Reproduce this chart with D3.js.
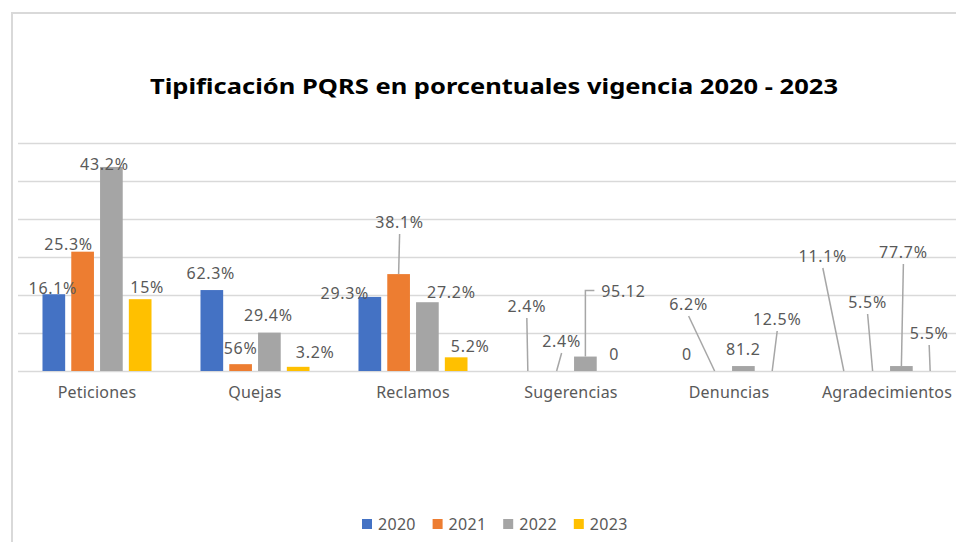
<!DOCTYPE html>
<html>
<head>
<meta charset="utf-8">
<script src="https://cdn.jsdelivr.net/npm/d3@7"></script>
<style>
  body { margin: 0; background: #fff; }
  svg { display: block; }
  text { font-family: "Noto Sans", "Open Sans", sans-serif; }
</style>
</head>
<body>
<div id="chart"></div>
<script>
// Chart data
let categories = ["Peticiones", "Quejas", "Reclamos", "Sugerencias", "Denuncias", "Agradecimientos"];
let series = ["2020", "2021", "2022", "2023"];

// bar heights (gridline step = 10)
let values2020 = [20.2, 21.3, 19.5, 0, 0, 0];
let values2021 = [31.4, 1.8, 25.5, 0, 0, 0];
let values2022 = [53.7, 10.1, 18.1, 3.8, 1.3, 1.3];
let values2023 = [18.9, 1.1, 3.6, 0, 0, 0];

// data label texts (as printed on the chart)
let labels2020 = ["16.1%", "62.3%", "29.3%", "2.4%", "0", "11.1%"];
let labels2021 = ["25.3%", "56%", "38.1%", "2.4%", "6.2%", "5.5%"];
let labels2022 = ["43.2%", "29.4%", "27.2%", "95.12", "81.2", "77.7%"];
let labels2023 = ["15%", "3.2%", "5.2%", "0", "12.5%", "5.5%"];

let yTicks = [0, 10, 20, 30, 40, 50, 60];

let colors = ["#4472c4", "#ed7d31", "#a5a5a5", "#ffc000"];

// label placement (offset from the bar top centre) and leader style
// leader: 0 none, 1 straight, 2 elbow
let labelLayout = [
    [[-1, -6, 0], [-1, -17, 0], [-25, -4, 0], [-1, -65, 1], [1, -17, 0], [-21, -115, 1]],
    [[-14, -7, 0], [0, -16, 0], [1, -52, 1], [5, -30, 1], [-26, -67, 1], [-5, -69, 1]],
    [[-7, -3, 0], [-1, -17, 0], [24, -10, 0], [38, -65, 2], [0, -17, 0], [2, -114, 1]],
    [[7, -12, 0], [17, -15, 0], [14, -11, 0], [0, -17, 0], [5, -52, 1], [-1, -38, 1]]
];

let allValues = [values2020, values2021, values2022, values2023];
let allLabels = [labels2020, labels2021, labels2022, labels2023];

let data = categories.map(function (c, i) {
    return {
        category: c,
        bars: series.map(function (s, j) {
            return {
                series: s, si: j, ci: i,
                value: allValues[j][i],
                label: allLabels[j][i],
                layout: labelLayout[j][i]
            };
        })
    };
});

let W = 956, H = 542;
let margin = { top: 143, bottom: 171, left: 18, right: -10 };

let svg = d3.select('#chart')
    .append('svg')
    .attr('width', W)
    .attr('height', H);

// chart area border
svg.append('path')
    .attr('d', 'M12,' + (H + 2) + 'V13H' + (W + 2))
    .attr('fill', 'none')
    .attr('stroke', '#d9d9d9')
    .attr('stroke-width', 2);

// scales
let x0 = d3.scaleBand()
    .domain(categories)
    .range([margin.left, W - margin.right])
    .paddingInner(0.31)
    .paddingOuter(0.155);

let x1 = d3.scaleBand()
    .domain(series)
    .range([0, x0.bandwidth()])
    .paddingInner(0.212);

let y = d3.scaleLinear()
    .domain([0, 60])
    .range([H - margin.bottom, margin.top]);

// title
svg.append('text')
    .attr('x', 494)
    .attr('y', 94)
    .attr('text-anchor', 'middle')
    .attr('font-size', 22)
    .attr('font-weight', 'bold')
    .attr('fill', '#000')
    .attr('textLength', 688)
    .attr('lengthAdjust', 'spacingAndGlyphs')
    .text('Tipificación PQRS en porcentuales vigencia 2020 - 2023');

// gridlines
let yAxis = svg.append('g')
    .attr('transform', 'translate(' + margin.left + ',0)')
    .call(d3.axisLeft(y).tickValues(yTicks).tickSize(-(W - margin.left)).tickFormat(''));
yAxis.select('.domain').remove();
yAxis.selectAll('.tick line')
    .attr('stroke', '#d9d9d9')
    .attr('stroke-width', 1.3);

// bars
let groups = svg.selectAll('.group')
    .data(data)
    .enter()
    .append('g')
    .attr('class', 'group')
    .attr('transform', function (d) {
        return 'translate(' + x0(d.category) + ',0)';
    });

groups.selectAll('rect')
    .data(function (d) { return d.bars; })
    .enter()
    .append('rect')
    .attr('x', function (d) { return x1(d.series); })
    .attr('width', x1.bandwidth())
    .attr('y', function (d) { return y(d.value); })
    .attr('height', function (d) { return y(0) - y(d.value); })
    .attr('fill', function (d) { return colors[d.si]; });

// data labels + leader lines
let bars = data.flatMap(function (d) { return d.bars; });

function barCx(d) {
    return x0(categories[d.ci]) + x1(d.series) + x1.bandwidth() / 2;
}

svg.selectAll('.leader')
    .data(bars.filter(function (d) { return d.layout[2] > 0; }))
    .enter()
    .append('path')
    .attr('class', 'leader')
    .attr('fill', 'none')
    .attr('stroke', '#a6a6a6')
    .attr('stroke-width', 1.5)
    .attr('d', function (d) {
        let bx = barCx(d), by = y(d.value);
        let lx = bx + d.layout[0], ly = by + d.layout[1];
        if (d.layout[2] === 2) {
            let w = d.label.length * 10;
            return 'M' + bx + ',' + by + 'V' + (ly - 1) + 'H' + (lx - w / 2 - 4);
        }
        return 'M' + lx + ',' + (ly + 12) + 'L' + bx + ',' + by;
    });

svg.selectAll('.label')
    .data(bars)
    .enter()
    .append('text')
    .attr('class', 'label')
    .attr('x', function (d) { return barCx(d) + d.layout[0]; })
    .attr('y', function (d) { return y(d.value) + d.layout[1]; })
    .attr('dy', '0.36em')
    .attr('text-anchor', 'middle')
    .attr('font-size', 16)
    .attr('letter-spacing', 0.7)
    .attr('fill', '#595959')
    .text(function (d) { return d.label; });

// category axis labels
svg.append('g')
    .selectAll('text')
    .data(categories)
    .enter()
    .append('text')
    .attr('x', function (d) { return x0(d) + x0.bandwidth() / 2; })
    .attr('y', 398)
    .attr('text-anchor', 'middle')
    .attr('font-size', 16)
    .attr('letter-spacing', 0.2)
    .attr('fill', '#595959')
    .text(function (d) { return d; });

// legend
let legend = svg.append('g')
    .selectAll('g')
    .data(series)
    .enter()
    .append('g')
    .attr('transform', function (d, i) {
        return 'translate(' + (362 + i * 70.6) + ',519)';
    });

legend.append('rect')
    .attr('width', 10)
    .attr('height', 10)
    .attr('fill', function (d, i) { return colors[i]; });

legend.append('text')
    .attr('x', 16)
    .attr('y', 5)
    .attr('dy', '0.36em')
    .attr('font-size', 16)
    .attr('letter-spacing', 0.3)
    .attr('fill', '#595959')
    .text(function (d) { return d; });
</script>
</body>
</html>
